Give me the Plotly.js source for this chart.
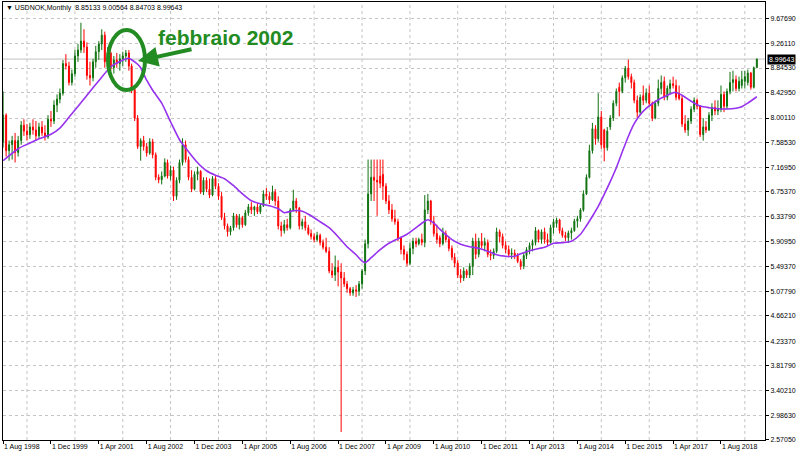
<!DOCTYPE html>
<html>
<head>
<meta charset="utf-8">
<script src="https://cdn.plot.ly/plotly-3.0.1.min.js"></script>
<style>html,body{margin:0;padding:0;background:#fff;}#chart{width:800px;height:457px;}</style>
</head>
<body>
<div id="chart"></div>
<script>
// ---- data (USDNOK monthly, Aug 1998 .. Aug 2019) ----
const startYear = 1998, startMonth = 8;
const opens = [
 7.60,8.05,7.45,7.55,7.62,
 7.42,7.62,7.88,7.78,7.72,7.85,7.80,7.70,7.85,7.75,7.68,7.98,
 7.95,8.22,8.32,8.42,8.92,8.88,8.60,8.75,9.05,9.15,9.30,9.20,
 8.72,8.68,8.95,9.12,9.25,9.40,8.95,9.10,8.85,8.98,8.92,9.00,
 9.05,9.10,8.88,8.48,8.00,7.52,7.62,7.52,7.41,7.60,7.38,7.00,
 6.96,7.02,7.25,7.02,7.12,6.68,6.95,7.25,7.55,7.30,7.00,6.80,
 7.05,7.10,6.75,6.95,6.80,6.70,6.98,6.85,6.68,6.32,6.18,6.08,
 6.15,6.35,6.20,6.32,6.20,6.40,6.50,6.45,6.50,6.42,6.52,6.72,
 6.68,6.62,6.75,6.60,6.18,6.10,6.20,6.15,6.45,6.60,6.48,6.18,
 6.25,6.15,6.05,6.00,5.95,6.02,5.90,5.82,5.75,5.42,5.35,5.48,
 5.40,5.30,5.20,5.12,5.05,5.10,5.08,5.20,5.42,5.88,6.72,7.00,
 6.95,7.02,7.05,6.85,6.60,6.45,6.30,6.25,5.98,5.78,5.70,5.55,
 5.80,5.92,5.88,5.95,5.90,6.45,6.60,6.25,6.05,5.98,5.88,6.05,
 5.95,5.80,5.65,5.55,5.35,5.30,5.42,5.35,5.50,5.92,5.70,5.92,
 5.85,5.90,5.70,5.68,5.75,6.08,6.00,5.85,5.78,5.70,5.72,5.68,
 5.58,5.50,5.68,5.78,5.85,5.90,6.10,5.95,6.08,5.95,5.90,6.15,
 6.22,6.28,6.10,6.02,5.98,6.06,6.10,6.26,6.30,6.45,6.72,7.00,
 7.45,7.82,7.65,8.02,7.80,7.50,7.85,8.00,8.25,8.52,8.45,8.68,
 8.84,8.70,8.60,8.30,8.10,8.38,8.30,8.42,8.25,8.00,8.25,8.50,
 8.62,8.35,8.50,8.58,8.55,8.42,8.33,7.90,7.80,7.95,8.15,8.30,
 8.20,7.72,7.85,7.80,8.05,8.18,8.12,8.15,8.40,8.20,8.45,8.60,
 8.65,8.50,8.55,8.62,8.60,8.76,8.52,8.85133
];
const highs = [
 8.45,8.08,7.62,7.70,7.75,
 7.70,7.95,7.98,7.90,7.92,7.98,7.95,7.92,7.95,7.88,8.05,8.12,
 8.30,8.40,8.50,8.98,9.08,8.95,8.82,9.15,9.25,9.61,9.50,9.28,
 8.95,9.00,9.22,9.30,9.50,9.46,9.20,9.12,9.05,9.10,9.08,9.12,
 9.15,9.15,8.92,8.52,8.05,7.66,7.70,7.58,7.66,7.65,7.42,7.05,
 7.10,7.32,7.30,7.20,7.18,7.00,7.30,7.66,7.62,7.35,7.12,7.10,
 7.18,7.12,7.00,7.00,6.98,7.02,7.02,6.90,6.75,6.40,6.22,6.18,
 6.40,6.38,6.38,6.35,6.45,6.55,6.58,6.52,6.56,6.55,6.78,6.82,
 6.75,6.86,6.80,6.68,6.25,6.28,6.30,6.48,6.79,6.65,6.50,6.30,
 6.35,6.20,6.12,6.05,6.08,6.05,5.95,5.98,5.82,5.55,5.68,5.60,
 5.55,5.40,5.25,5.15,5.15,5.18,5.25,5.45,5.95,7.30,7.30,7.30,
 7.30,7.30,7.30,6.90,6.70,6.55,6.45,6.30,6.00,5.85,5.75,5.90,
 5.98,5.98,5.98,6.05,6.70,6.72,6.62,6.35,6.20,6.02,6.15,6.10,
 6.00,5.85,5.72,5.60,5.45,5.48,5.45,5.55,5.98,6.05,5.98,6.06,
 5.98,5.95,5.78,5.80,6.15,6.12,6.05,5.92,5.85,5.80,5.78,5.72,
 5.62,5.72,5.82,5.90,5.95,6.16,6.12,6.12,6.15,6.05,6.20,6.30,
 6.32,6.30,6.15,6.08,6.10,6.15,6.30,6.35,6.48,6.78,7.05,7.55,
 7.92,7.88,8.42,8.12,7.82,7.85,8.05,8.30,8.50,8.60,8.72,8.88,
 8.99,8.75,8.65,8.38,8.40,8.55,8.50,8.55,8.28,8.30,8.65,8.72,
 8.70,8.55,8.65,8.70,8.65,8.55,8.38,8.05,8.00,8.20,8.35,8.33,
 8.22,8.00,7.95,8.10,8.25,8.30,8.30,8.55,8.45,8.50,8.78,8.80,
 8.72,8.70,8.80,8.80,8.82,8.78,8.87,9.00564
];
const lows = [
 7.50,7.35,7.28,7.30,7.25,
 7.35,7.55,7.70,7.62,7.65,7.72,7.62,7.65,7.70,7.62,7.65,7.85,
 7.90,8.10,8.25,8.38,8.82,8.55,8.55,8.70,8.95,9.10,9.10,8.65,
 8.55,8.62,8.85,8.98,9.15,8.85,8.85,8.80,8.75,8.85,8.80,8.88,
 8.95,8.80,8.42,7.95,7.48,7.28,7.45,7.35,7.38,7.32,6.95,6.90,
 6.88,7.00,6.98,6.95,6.60,6.62,6.90,7.20,7.25,6.95,6.75,6.78,
 6.95,6.72,6.70,6.75,6.65,6.68,6.80,6.62,6.28,6.12,6.00,6.02,
 6.10,6.15,6.12,6.15,6.18,6.35,6.38,6.35,6.38,6.38,6.50,6.62,
 6.55,6.60,6.52,6.12,6.00,6.05,6.10,6.12,6.42,6.40,6.12,6.12,
 6.10,6.02,5.95,5.90,5.92,5.85,5.78,5.72,5.38,5.30,5.25,5.16,
 2.70,5.15,5.05,5.00,5.00,4.98,5.00,5.12,5.35,5.80,6.60,6.60,
 6.35,6.82,6.62,6.55,6.38,6.25,6.20,5.92,5.70,5.60,5.50,5.52,
 5.70,5.82,5.85,5.85,5.82,6.38,6.20,6.00,5.88,5.82,5.85,5.90,
 5.75,5.60,5.48,5.30,5.22,5.25,5.30,5.30,5.35,5.62,5.65,5.80,
 5.75,5.65,5.60,5.62,5.72,5.90,5.80,5.72,5.65,5.62,5.62,5.55,
 5.44,5.45,5.62,5.70,5.75,5.85,5.90,5.88,5.88,5.85,5.88,6.05,
 6.15,6.05,5.98,5.92,5.89,5.95,6.08,6.15,6.25,6.42,6.70,6.98,
 7.40,7.55,7.60,7.48,7.27,7.45,7.80,7.95,8.20,8.03,8.42,8.60,
 8.65,8.50,8.25,8.00,8.05,8.22,8.25,8.20,7.95,7.98,8.20,8.40,
 8.30,8.30,8.40,8.50,8.30,8.30,7.85,7.75,7.70,7.90,8.10,8.15,
 7.68,7.62,7.75,7.78,7.95,8.05,8.05,8.10,8.10,8.15,8.40,8.45,
 8.45,8.45,8.50,8.50,8.55,8.48,8.50,8.84703
];
const closes = [
 8.05,7.45,7.55,7.62,7.42,
 7.62,7.88,7.78,7.72,7.85,7.80,7.70,7.85,7.75,7.68,7.98,7.95,
 8.22,8.32,8.42,8.92,8.88,8.60,8.75,9.05,9.15,9.30,9.20,8.72,
 8.68,8.95,9.12,9.25,9.40,8.95,9.10,8.85,8.98,8.92,9.00,9.05,
 9.10,8.88,8.48,8.00,7.52,7.62,7.52,7.41,7.60,7.38,7.00,6.96,
 7.02,7.25,7.02,7.12,6.68,6.95,7.25,7.55,7.30,7.00,6.80,7.05,
 7.10,6.75,6.95,6.80,6.70,6.98,6.85,6.68,6.32,6.18,6.08,6.15,
 6.35,6.20,6.32,6.20,6.40,6.50,6.45,6.50,6.42,6.52,6.72,6.68,
 6.62,6.75,6.60,6.18,6.10,6.20,6.15,6.45,6.60,6.48,6.18,6.25,
 6.15,6.05,6.00,5.95,6.02,5.90,5.82,5.75,5.42,5.35,5.48,5.40,
 5.30,5.20,5.12,5.05,5.10,5.08,5.20,5.42,5.88,6.72,7.00,6.95,
 6.92,6.90,6.85,6.60,6.45,6.30,6.25,5.98,5.78,5.70,5.55,5.80,
 5.92,5.88,5.95,5.90,6.45,6.60,6.25,6.05,5.95,5.88,6.05,5.95,
 5.80,5.65,5.55,5.35,5.30,5.42,5.35,5.50,5.92,5.70,5.92,5.85,
 5.90,5.70,5.68,5.75,6.08,6.00,5.85,5.78,5.70,5.72,5.68,5.58,
 5.50,5.68,5.78,5.85,5.90,6.10,5.95,6.08,5.95,5.90,6.15,6.25,
 6.28,6.10,6.02,5.98,6.06,6.10,6.26,6.30,6.45,6.72,7.00,7.45,
 7.82,7.65,8.02,7.55,7.50,7.78,8.00,8.25,8.45,8.45,8.68,8.84,
 8.70,8.60,8.30,8.10,8.35,8.30,8.42,8.25,8.00,8.25,8.50,8.60,
 8.35,8.50,8.58,8.55,8.35,8.33,7.90,7.80,7.95,8.15,8.30,8.20,
 7.72,7.85,7.80,8.05,8.18,8.12,8.15,8.40,8.20,8.45,8.60,8.65,
 8.50,8.62,8.65,8.70,8.76,8.52,8.85,8.99643
];
// moving average line
const maDates = ['1998-08-01','1999-01-01','1999-05-01','1999-08-01','1999-12-01','2000-03-01','2000-06-01','2000-10-01','2001-01-01','2001-04-01','2001-08-01','2001-11-01','2002-02-01','2002-03-01','2002-05-01','2002-06-01','2002-08-01','2002-10-01','2003-01-01','2003-04-01','2003-07-01','2003-10-01','2004-01-01','2004-04-01','2004-07-01','2004-10-01','2005-01-01','2005-04-01','2005-07-01','2005-10-01','2006-01-01','2006-04-01','2006-06-01','2006-09-01','2006-12-01','2007-03-01','2007-06-01','2007-09-01','2007-12-01','2008-03-01','2008-06-01','2008-08-01','2008-09-01','2008-11-01','2009-02-01','2009-05-01','2009-08-01','2009-11-01','2010-02-01','2010-04-01','2010-06-01','2010-08-01','2010-10-01','2010-12-01','2011-02-01','2011-05-01','2011-08-01','2011-11-01','2012-02-01','2012-05-01','2012-08-01','2012-11-01','2013-01-01','2013-03-01','2013-06-01','2013-09-01','2013-12-01','2014-03-01','2014-06-01','2014-09-01','2014-11-01','2015-01-01','2015-03-01','2015-05-01','2015-07-01','2015-09-01','2015-11-01','2016-01-01','2016-03-01','2016-05-01','2016-07-01','2016-09-01','2016-11-01','2017-02-01','2017-04-01','2017-05-01','2017-07-01','2017-10-01','2018-01-01','2018-04-01','2018-07-01','2018-10-01','2019-01-01','2019-03-01','2019-05-01','2019-08-01'];
const maValues = [7.280,7.483,7.579,7.651,7.727,7.832,8.014,8.259,8.450,8.630,8.867,8.956,9.010,8.985,8.909,8.850,8.639,8.470,8.251,7.938,7.635,7.432,7.246,7.111,7.035,6.976,6.858,6.723,6.605,6.554,6.520,6.470,6.402,6.436,6.428,6.352,6.250,6.149,5.997,5.828,5.693,5.584,5.558,5.643,5.778,5.887,5.963,6.039,6.149,6.225,6.284,6.225,6.124,6.031,5.947,5.871,5.828,5.803,5.752,5.693,5.668,5.668,5.710,5.744,5.786,5.820,5.887,5.896,5.921,6.039,6.183,6.343,6.509,6.711,6.926,7.162,7.432,7.690,7.905,8.057,8.163,8.242,8.310,8.386,8.428,8.433,8.386,8.284,8.203,8.175,8.158,8.153,8.166,8.192,8.254,8.360];
const yTickLabels = ['9.67690','9.26110','8.84530','8.42950','8.00110','7.58530','7.16950','6.75370','6.33790','5.90950','5.49370','5.07790','4.66210','4.23370','3.81790','3.40210','2.98630','2.57050'];
const xTickDates = ['1998-08-01','1999-12-01','2001-04-01','2002-08-01','2003-12-01','2005-04-01','2006-08-01','2007-12-01','2009-04-01','2010-08-01','2011-12-01','2013-04-01','2014-08-01','2015-12-01','2017-04-01','2018-08-01'];
const xTickLabels = ['1 Aug 1998','1 Dec 1999','1 Apr 2001','1 Aug 2002','1 Dec 2003','1 Apr 2005','1 Aug 2006','1 Dec 2007','1 Apr 2009','1 Aug 2010','1 Dec 2011','1 Apr 2013','1 Aug 2014','1 Dec 2015','1 Apr 2017','1 Aug 2018'];
const xGridDates = ['1999-04-01','2000-08-01','2001-12-01','2003-04-01','2004-08-01','2005-12-01','2007-04-01','2008-08-01','2009-12-01','2011-04-01','2012-08-01','2013-12-01','2015-04-01','2016-08-01','2017-12-01','2019-04-01'];
const symbolText = 'USDNOK,Monthly';
const lastPrice = 8.99643;
const annotationText = 'febbraio 2002';

// ---- build ----
const months = opens.map((_, k) => {
  const m0 = startMonth - 1 + k;
  const y = startYear + Math.floor(m0 / 12);
  const m = (m0 % 12) + 1;
  return y + '-' + String(m).padStart(2, '0') + '-01';
});

const W = 800, H = 457;
const M = {l: 3, r: 35, t: 2, b: 17};
const pw = W - M.l - M.r, ph = H - M.t - M.b;
const px = x => (x - M.l) / pw;
const py = y => (H - M.b - y) / ph;

const GREEN = '#0f720f', RED = '#ff0000', ANN = '#228b22';

const traces = [
  {
    type: 'candlestick', x: months, open: opens, high: highs, low: lows, close: closes,
    increasing: {line: {color: GREEN, width: 1}, fillcolor: GREEN},
    decreasing: {line: {color: RED, width: 1}, fillcolor: RED},
    whiskerwidth: 0, hoverinfo: 'skip', showlegend: false
  },
  {
    type: 'scatter', mode: 'lines', x: maDates, y: maValues,
    line: {color: '#9632ee', width: 1.6, shape: 'spline', smoothing: 0.6},
    hoverinfo: 'skip', showlegend: false
  }
];

const shapes = xGridDates.map(d => ({
  type: 'line', xref: 'x', yref: 'paper', x0: d, x1: d, y0: 0, y1: 1,
  line: {color: '#c4c4c4', width: 1, dash: 'dot'}, layer: 'below'
}));
shapes.push({type: 'line', xref: 'paper', yref: 'y', x0: 0, x1: 1, y0: lastPrice, y1: lastPrice,
  line: {color: '#c0c0c0', width: 1}, layer: 'below'});
shapes.push({type: 'circle', xref: 'paper', yref: 'paper',
  x0: px(108), x1: px(145), y0: py(90), y1: py(30),
  line: {color: ANN, width: 4}});

const annotations = [
  {xref: 'paper', yref: 'paper', x: px(4), y: py(8), xanchor: 'left', yanchor: 'middle',
   text: '\u25BC ' + symbolText + '\u00a0\u00a0' + [opens[opens.length-1], highs[highs.length-1], lows[lows.length-1], closes[closes.length-1]].map(v => v.toFixed(5)).join(' '),
   showarrow: false, font: {size: 7, color: '#000'}},
  {xref: 'paper', yref: 'y', x: 1 + 2 / pw, y: lastPrice, xanchor: 'left', yanchor: 'middle',
   text: lastPrice.toFixed(5), showarrow: false, bgcolor: '#000', borderpad: 1,
   font: {size: 7, color: '#fff'}},
  {xref: 'paper', yref: 'paper', x: px(225), y: py(37), xanchor: 'center', yanchor: 'middle',
   text: '<b>' + annotationText + '</b>', showarrow: false,
   font: {size: 21, color: ANN, family: 'Liberation Sans, Arial, sans-serif'}},
  {xref: 'paper', yref: 'paper', x: px(138), y: py(61), text: '', showarrow: true,
   ax: 55, ay: -12, arrowhead: 2, arrowsize: 1, arrowwidth: 4, arrowcolor: ANN, standoff: 0}
];

const layout = {
  width: W, height: H, margin: {l: M.l, r: M.r, t: M.t, b: M.b, pad: 0},
  paper_bgcolor: '#fff', plot_bgcolor: '#fff',
  font: {family: 'Liberation Sans, Arial, sans-serif', size: 7, color: '#000'},
  showlegend: false, hovermode: false, boxgap: 0.5,
  xaxis: {
    type: 'date', range: ['1998-07-31', '2019-10-23'],
    rangeslider: {visible: false},
    tickmode: 'array', tickvals: xTickDates, ticktext: xTickLabels,
    ticks: 'outside', ticklen: 3, tickcolor: '#000', tickwidth: 1,
    ticklabelposition: 'outside right',
    showgrid: false, zeroline: false,
    showline: true, linecolor: '#000', linewidth: 1, mirror: true,
    tickfont: {size: 7, color: '#000'}
  },
  yaxis: {
    side: 'right', range: [2.565, 9.96],
    tickmode: 'array', tickvals: yTickLabels.map(Number), ticktext: yTickLabels,
    ticks: 'outside', ticklen: 3, tickcolor: '#000', tickwidth: 1,
    showgrid: true, gridcolor: '#c4c4c4', griddash: 'dot', gridwidth: 1,
    zeroline: false,
    showline: true, linecolor: '#000', linewidth: 1, mirror: true,
    tickfont: {size: 7, color: '#000'}
  },
  shapes: shapes,
  annotations: annotations
};

Plotly.newPlot('chart', traces, layout, {displayModeBar: false, staticPlot: true});
</script>
</body>
</html>
